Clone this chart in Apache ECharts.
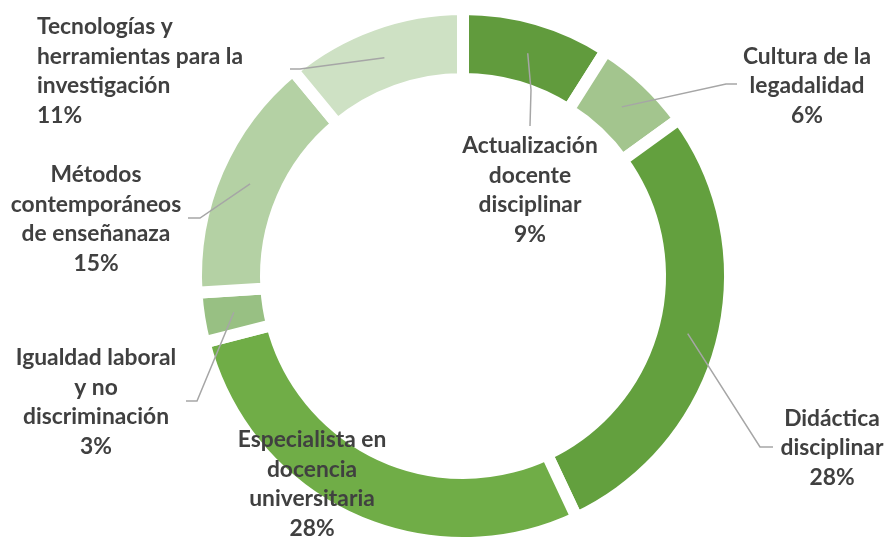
<!DOCTYPE html>
<html>
<head>
<meta charset="utf-8">
<script src="https://cdn.jsdelivr.net/npm/echarts@6/dist/echarts.min.js"></script>
<style>
  html, body { margin: 0; padding: 0; background: #fff; }
  #donut { width: 887px; height: 542px; }
</style>
</head>
<body>
<div id="donut"></div>
<script>
// data
const categories = [
  'Actualización\ndocente\ndisciplinar',
  'Cultura de la\nlegadalidad',
  'Didáctica\ndisciplinar',
  'Especialista en\ndocencia\nuniversitaria',
  'Igualdad laboral\ny no\ndiscriminación',
  'Métodos\ncontemporáneos\nde enseñanaza',
  'Tecnologías y\nherramientas para la\ninvestigación'
];
const values = [9, 6, 28, 28, 3, 15, 11];
const colors = ['#619b3d', '#a3c58e', '#63a03e', '#70ad47', '#98c083', '#b4d1a4', '#cee1c4'];

// layout (pixels)
const cx = 463, cy = 276;
const gap = 12;
const rIn = 203, rOut = 261;
const rMid = 232;

// where each label sits and how its leader line bends
const labelPos = [
  { x: 530, y: 190, align: 'center', bend: [531, 90], end: [530, 126] },
  { x: 807, y: 86, align: 'center', bend: [726, 84], end: [737, 84] },
  { x: 832, y: 448, align: 'center', bend: [760, 447], end: [773, 447] },
  { x: 312, y: 484, align: 'center', line: false },
  { x: 96, y: 402, align: 'center', bend: [197, 401], end: [186, 401] },
  { x: 96, y: 219, align: 'center', bend: [200, 218], end: [188, 218] },
  { x: 37, y: 71, align: 'left', bend: [300, 69], end: [290, 69] }
];

const total = values.reduce((a, b) => a + b, 0);
function midAngle(i) {
  let acc = 0;
  for (let k = 0; k < i; k++) acc += values[k];
  return (acc + values[i] / 2) / total * Math.PI * 2;
}

const baseSeries = {
  type: 'pie',
  center: [cx, cy],
  radius: [rIn - gap / 2, rOut + gap / 2],
  startAngle: 90,
  clockwise: true,
  percentPrecision: 0,
  avoidLabelOverlap: false
};

const myChart = echarts.init(document.getElementById('donut'));
const option = {
  animation: false,
  series: [
    // the rings
    Object.assign({}, baseSeries, {
      z: 2,
      silent: true,
      itemStyle: {
        borderColor: '#ffffff',
        borderWidth: gap
      },
      label: { show: false },
      labelLine: { show: false },
      data: categories.map((name, i) => ({
        name: name,
        value: values[i],
        itemStyle: { color: colors[i] }
      }))
    }),
    // transparent copy on top, carrying labels and leader lines
    Object.assign({}, baseSeries, {
      z: 5,
      silent: true,
      itemStyle: { color: 'rgba(0,0,0,0)', borderWidth: 0 },
      label: {
        show: true,
        position: 'outside',
        formatter: p => p.name + '\n' + p.percent + '%',
        color: '#404040',
        fontFamily: 'Lato',
        fontWeight: 'bold',
        fontSize: 22.8,
        lineHeight: 29.5
      },
      labelLine: {
        show: true,
        length: 10,
        length2: 10,
        lineStyle: {
          color: '#a6a6a6',
          width: 1.5
        }
      },
      labelLayout: function (params) {
        const p = labelPos[params.dataIndex];
        const a = midAngle(params.dataIndex);
        const sx = cx + rMid * Math.sin(a);
        const sy = cy - rMid * Math.cos(a);
        const out = {
          x: p.x,
          y: p.y,
          align: p.align,
          verticalAlign: 'middle'
        };
        if (p.line !== false) {
          out.labelLinePoints = [[sx, sy], p.bend, p.end];
        }
        return out;
      },
      data: categories.map((name, i) => ({
        name: name,
        value: values[i],
        labelLine: { show: labelPos[i].line !== false }
      }))
    })
  ]
};
myChart.setOption(option);
</script>
</body>
</html>
